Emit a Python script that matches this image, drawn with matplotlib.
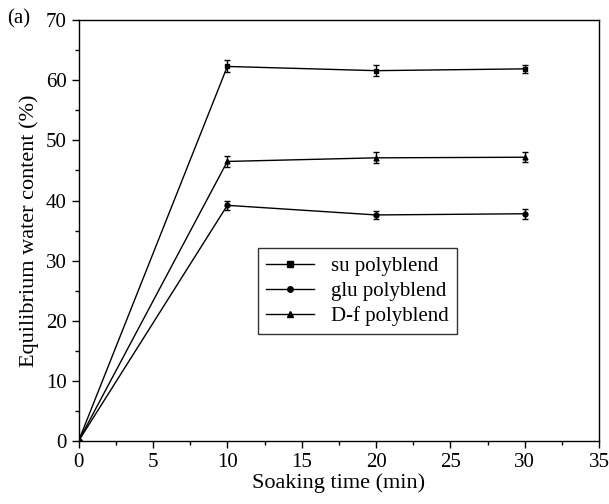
import matplotlib.pyplot as plt
from matplotlib.lines import Line2D
from matplotlib.ticker import MultipleLocator

plt.rcParams['font.family'] = ['Liberation Serif', 'DejaVu Serif']

# Data
time_min = [0, 10, 20, 30]
su_ewc = [0, 62.3, 61.6, 61.9]
su_err = [0, 1.0, 0.9, 0.7]
glu_ewc = [0, 39.2, 37.6, 37.8]
glu_err = [0, 0.8, 0.6, 0.8]
df_ewc = [0, 46.5, 47.1, 47.2]
df_err = [0, 0.9, 0.9, 0.8]

fig = plt.figure(figsize=(6.09, 5.04), dpi=100)
ax = fig.add_axes([0.129, 0.125, 0.855, 0.835])

series = [
    ('su polyblend', su_ewc, su_err, 's'),
    ('glu polyblend', glu_ewc, glu_err, 'o'),
    ('D-f polyblend', df_ewc, df_err, '^'),
]
handles = []
for label, y, err, m in series:
    ax.errorbar(time_min, y, yerr=err, color='black', linewidth=1.0,
                marker=m, markersize=3.5, capsize=2.5, elinewidth=1.0,
                capthick=1.0)
    handles.append(Line2D([], [], color='black', linewidth=1.0, marker=m,
                          markersize=4, label=label))

ax.set_xlim(0, 35)
ax.set_ylim(0, 70)
ax.xaxis.set_major_locator(MultipleLocator(5))
ax.xaxis.set_minor_locator(MultipleLocator(2.5))
ax.yaxis.set_major_locator(MultipleLocator(10))
ax.yaxis.set_minor_locator(MultipleLocator(5))
ax.tick_params(which='both', direction='out', labelsize=15, width=1.0)
ax.tick_params(which='major', length=5)
ax.tick_params(which='minor', length=3)
for s in ax.spines.values():
    s.set_linewidth(1.0)

ax.set_xlabel('Soaking time (min)', fontsize=16, labelpad=1)
ax.set_ylabel('Equilibrium water content (%)', fontsize=16, labelpad=5)
fig.text(0.012, 0.962, '(a)', fontsize=15, va='center')

leg = ax.legend(handles=handles, loc='upper left',
                bbox_to_anchor=(0.344, 0.458), fontsize=15,
                frameon=True, fancybox=False, edgecolor='black',
                handlelength=2.3, handletextpad=0.8, borderpad=0.4,
                labelspacing=0.25, borderaxespad=0)
leg.get_frame().set_linewidth(1.0)

fig.savefig('out.png', dpi=100)
